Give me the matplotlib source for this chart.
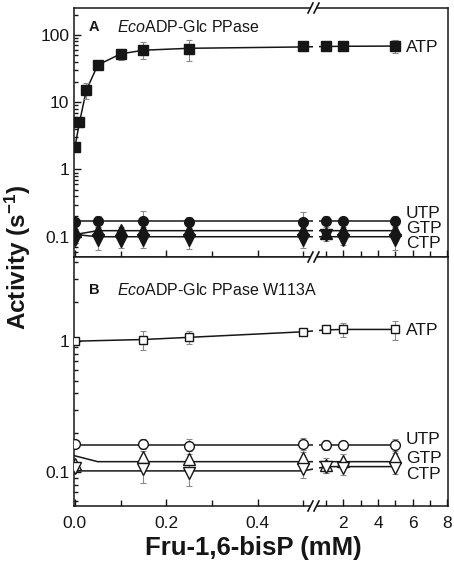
import numpy as np
import matplotlib
matplotlib.use('Agg')
import matplotlib.pyplot as plt
from matplotlib.ticker import LogLocator, NullFormatter, FixedLocator, FixedFormatter, FuncFormatter
from matplotlib.lines import Line2D
from matplotlib.patches import Rectangle
import matplotlib.transforms as mtransforms

plt.rcParams['font.family'] = ['Liberation Sans', 'DejaVu Sans']
plt.rcParams['mathtext.fontset'] = 'custom'
plt.rcParams['mathtext.rm'] = 'Liberation Sans'
plt.rcParams['mathtext.it'] = 'Liberation Sans:italic'
plt.rcParams['mathtext.bf'] = 'Liberation Sans:bold'

# ---------------- data ----------------
# Panel A: EcoADP-Glc PPase (wild type)
atpA_x = [0, 0.01, 0.025, 0.05, 0.1, 0.15, 0.25, 0.5, 1, 2, 5]
atpA_y = [2.15, 5.0, 15, 35.5, 52, 60, 62.5, 67, 67, 68, 68]
atpA_e = [0.3, 0.8, 4, 3, 10, 17, 22, 10, 5, 8, 15]
atpA_fit_x = [0, 0.01, 0.025, 0.05, 0.1, 0.15, 0.25, 0.5, 1, 2, 5]
atpA_fit_y = [2.15, 5.0, 15, 35.5, 52, 59, 63, 66, 67, 67.5, 68]

utpA_x = [0, 0.05, 0.15, 0.25, 0.5, 1, 2, 5]
utpA_y = [0.165, 0.17, 0.17, 0.165, 0.165, 0.17, 0.17, 0.17]
utpA_e = [0.01, 0.03, 0.07, 0.03, 0.07, 0.03, 0.02, 0.03]
utpA_fit_x = [0, 5]
utpA_fit_y = [0.17, 0.17]

gtpA_x = [0, 0.05, 0.1, 0.15, 0.25, 0.5, 1, 2, 5]
gtpA_y = [0.12, 0.125, 0.125, 0.125, 0.127, 0.125, 0.113, 0.125, 0.125]
gtpA_e = [0.01, 0.015, 0.015, 0.015, 0.02, 0.015, 0.015, 0.015, 0.02]
gtpA_fit_x = [0, 0.05, 5]
gtpA_fit_y = [0.108, 0.123, 0.123]

ctpA_x = [0, 0.05, 0.1, 0.15, 0.25, 0.5, 1, 2, 5]
ctpA_y = [0.09, 0.088, 0.087, 0.088, 0.09, 0.088, 0.105, 0.09, 0.088]
ctpA_e = [0.01, 0.025, 0.02, 0.02, 0.025, 0.02, 0.02, 0.015, 0.025]
ctpA_fit_x = [0, 0.05, 5]
ctpA_fit_y = [0.108, 0.1, 0.1]

# Panel B: EcoADP-Glc PPase W113A
atpB_x = [0, 0.15, 0.25, 0.5, 1, 2, 5]
atpB_y = [1.0, 1.03, 1.07, 1.18, 1.23, 1.23, 1.23]
atpB_e = [0.02, 0.17, 0.12, 0.04, 0.05, 0.15, 0.2]
atpB_fit_x = [0, 0.15, 0.25, 0.5, 1, 2, 5]
atpB_fit_y = [1.0, 1.03, 1.07, 1.18, 1.22, 1.23, 1.23]

utpB_x = [0, 0.15, 0.25, 0.5, 1, 2, 5]
utpB_y = [0.163, 0.165, 0.158, 0.163, 0.162, 0.162, 0.16]
utpB_e = [0.005, 0.015, 0.02, 0.02, 0.015, 0.01, 0.02]
utpB_fit_x = [0, 5]
utpB_fit_y = [0.162, 0.162]

gtpB_x = [0, 0.15, 0.25, 0.5, 1, 2, 5]
gtpB_y = [0.115, 0.13, 0.125, 0.127, 0.113, 0.122, 0.13]
gtpB_e = [0.005, 0.015, 0.02, 0.02, 0.015, 0.015, 0.015]
gtpB_fit_x = [0, 0.05, 5]
gtpB_fit_y = [0.133, 0.12, 0.12]

ctpB_x = [0, 0.15, 0.25, 0.5, 1, 2, 5]
ctpB_y = [0.108, 0.105, 0.098, 0.105, 0.11, 0.107, 0.108]
ctpB_e = [0.005, 0.022, 0.02, 0.015, 0.012, 0.012, 0.012]
ctpB_fit_x = [0, 0.5, 1, 5]
ctpB_fit_y = [0.102, 0.102, 0.11, 0.11]

x_major = [0, 0.2, 0.4, 2, 4, 6, 8]
x_major_labels = ['0.0', '0.2', '0.4', '2', '4', '6', '8']
x_minor = [0.1, 0.3, 0.5, 1, 3, 5, 7]

# ---------------- broken x scale ----------------
BRK = 0.5325
K = 0.03788


def fwd(x):
    x = np.asarray(x, float)
    return np.where(x <= BRK, x, BRK + (x - BRK) * K)


def inv(y):
    y = np.asarray(y, float)
    return np.where(y <= BRK, y, BRK + (y - BRK) / K)


W, H = 454, 569
fig = plt.figure(figsize=(W / 100, H / 100), dpi=100)
L, R = 74 / W, 448 / W
axA = fig.add_axes([L, 1 - 257 / H, R - L, 249 / H])
axB = fig.add_axes([L, 1 - 506 / H, R - L, 249 / H])

INK = '#161616'
ERR = '#8a8a8a'


def series(ax, x, y, e, fx, fy, marker, face, ms):
    ax.plot(fx, fy, color=INK, lw=1.1, zorder=2)
    ax.errorbar(x, y, yerr=e, fmt='none', ecolor=ERR, elinewidth=0.8,
                capsize=2, capthick=0.8, zorder=3)
    ax.plot(x, y, ls='none', marker=marker, ms=ms, mfc=face, mec=INK,
            mew=1.0, zorder=4)


for ax in (axA, axB):
    ax.set_xscale('function', functions=(fwd, inv))
    ax.set_yscale('log')
    ax.set_xlim(-0.002, 8.05)
    ax.xaxis.set_major_locator(FixedLocator(x_major))
    ax.xaxis.set_major_formatter(FixedFormatter(x_major_labels))
    ax.xaxis.set_minor_locator(FixedLocator(x_minor))
    ax.xaxis.set_minor_formatter(NullFormatter())
    ax.yaxis.set_major_locator(LogLocator(base=10))
    ax.yaxis.set_major_formatter(FuncFormatter(lambda v, p: '%g' % v))
    ax.yaxis.set_minor_locator(LogLocator(base=10, subs=np.arange(2, 10)))
    ax.yaxis.set_minor_formatter(NullFormatter())
    ax.tick_params(which='both', direction='in', top=False, right=False,
                   width=1.0, colors=INK, labelsize=12.5)
    ax.tick_params(which='major', length=5)
    ax.tick_params(which='minor', length=3)
    ax.tick_params(axis='x', which='minor', length=4)
    for s in ax.spines.values():
        s.set_linewidth(1.1)
        s.set_color(INK)
    # gap in the curves at the axis break
    ax.add_patch(Rectangle((0.638, 0), 0.017, 1, transform=ax.transAxes,
                           facecolor='white', edgecolor='none', zorder=2.2))

axA.set_ylim(0.05, 250)
axB.set_ylim(0.055, 4.4)
axA.tick_params(axis='x', labelbottom=False)
axB.tick_params(axis='x', pad=7)

# Panel A
series(axA, atpA_x, atpA_y, atpA_e, atpA_fit_x, atpA_fit_y, 's', INK, 6.5)
series(axA, utpA_x, utpA_y, utpA_e, utpA_fit_x, utpA_fit_y, 'o', INK, 7)
series(axA, gtpA_x, gtpA_y, gtpA_e, gtpA_fit_x, gtpA_fit_y, '^', INK, 8.5)
series(axA, ctpA_x, ctpA_y, ctpA_e, ctpA_fit_x, ctpA_fit_y, 'v', INK, 8.5)

# Panel B
series(axB, atpB_x, atpB_y, atpB_e, atpB_fit_x, atpB_fit_y, 's', 'white', 6)
series(axB, utpB_x, utpB_y, utpB_e, utpB_fit_x, utpB_fit_y, 'o', 'white', 7)
series(axB, gtpB_x, gtpB_y, gtpB_e, gtpB_fit_x, gtpB_fit_y, '^', 'white', 8.5)
series(axB, ctpB_x, ctpB_y, ctpB_e, ctpB_fit_x, ctpB_fit_y, 'v', 'white', 8.5)

# Series labels at the right
lab_x = (406 - 74) / (448 - 74)
for ax, labs in ((axA, [('ATP', 64), ('UTP', 0.22), ('GTP', 0.132), ('CTP', 0.079)]),
                 (axB, [('ATP', 1.21), ('UTP', 0.176), ('GTP', 0.128), ('CTP', 0.095)])):
    tr = mtransforms.blended_transform_factory(ax.transAxes, ax.transData)
    for t, yv in labs:
        ax.text(lab_x, yv, t, transform=tr, ha='left', va='center',
                fontsize=12.5, color=INK)

# Panel titles
axA.text((89 - 74) / 374, 1 - (27 - 8) / 249, 'A', transform=axA.transAxes,
         fontsize=10.5, fontweight='bold', va='center', ha='left', color=INK)
axA.text((117 - 74) / 374, 1 - (27 - 8) / 249, r'$\mathit{Eco}$ADP-Glc PPase',
         transform=axA.transAxes, fontsize=11.5, va='center', ha='left', color=INK)
axB.text((89 - 74) / 374, 1 - (290 - 257) / 249, 'B', transform=axB.transAxes,
         fontsize=10.5, fontweight='bold', va='center', ha='left', color=INK)
axB.text((117 - 74) / 374, 1 - (290 - 257) / 249, r'$\mathit{Eco}$ADP-Glc PPase W113A',
         transform=axB.transAxes, fontsize=11.5, va='center', ha='left', color=INK)

# Axis labels
fig.text(18 / W, 1 - 257 / H, r'Activity (s$^{\mathbf{-1}}$)', rotation=90,
         ha='center', va='center', fontsize=17.5, fontweight='bold', color=INK)
fig.text(253 / W, 1 - 548 / H, 'Fru-1,6-bisP (mM)', ha='center', va='center',
         fontsize=18.5, fontweight='bold', color=INK)


# Break marks on the x axis
def brk(xc, yc):
    fx = lambda p: p / W
    fy = lambda p: 1 - p / H
    fig.add_artist(Rectangle((fx(xc - 3.5), fy(yc + 1.5)), 7 / W, 3 / H,
                             transform=fig.transFigure, facecolor='white',
                             edgecolor='none', zorder=5))
    for dx in (-3, 3):
        fig.add_artist(Line2D([fx(xc + dx - 2.5), fx(xc + dx + 2.5)],
                              [fy(yc + 5), fy(yc - 5)], transform=fig.transFigure,
                              color=INK, lw=1.2, zorder=6))


for yc in (8, 257, 506):
    brk(313.5, yc)

fig.savefig('out.png', dpi=100)
